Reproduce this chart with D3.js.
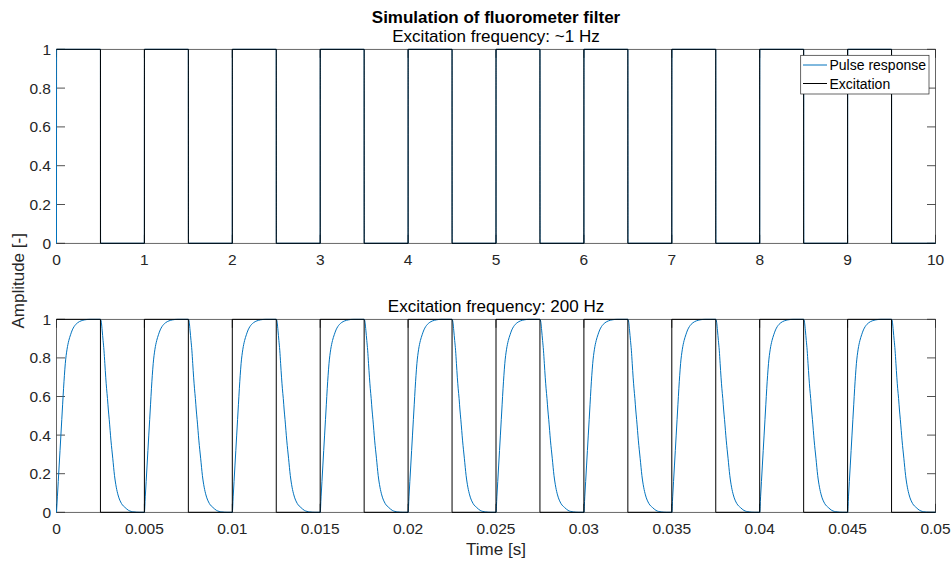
<!DOCTYPE html>
<html>
<head>
<meta charset="utf-8">
<script src="https://cdn.jsdelivr.net/npm/d3@7"></script>
<style>
  html, body { margin: 0; padding: 0; background: #fff; }
  svg { display: block; font-family: "Liberation Sans", Arial, Helvetica, sans-serif; }
</style>
</head>
<body>
<svg id="chart" width="951" height="563"></svg>
<script>
// ---------------- data ----------------
// transition times of the square-wave excitation (level 1 starts at t=0, alternates)
const topEdges = [0, 0.5, 1, 1.5, 2, 2.5, 3, 3.5, 4, 4.5, 5, 5.5, 6, 6.5, 7, 7.5, 8, 8.5, 9, 9.5, 10];
const bottomEdges = [0, 0.0025, 0.005, 0.0075, 0.01, 0.0125, 0.015, 0.0175, 0.02, 0.0225, 0.025,
                     0.0275, 0.03, 0.0325, 0.035, 0.0375, 0.04, 0.0425, 0.045, 0.0475, 0.05];
// filter step response, offsets in ms after each edge
const shapeTms  = [0, 0.05, 0.1, 0.15, 0.2, 0.25, 0.3, 0.35, 0.4, 0.45, 0.5, 0.6, 0.7, 0.8, 0.9, 1.0, 1.2, 1.4, 1.6, 1.9, 2.2];
const riseShape = [0, 0.08, 0.16, 0.24, 0.32, 0.40, 0.48, 0.56, 0.64, 0.71, 0.77, 0.845, 0.89, 0.92, 0.945, 0.962, 0.982, 0.992, 0.997, 1, 1];
const fallShape = [1, 0.985, 0.94, 0.89, 0.84, 0.77, 0.70, 0.64, 0.59, 0.53, 0.48, 0.37, 0.28, 0.19, 0.13, 0.09, 0.045, 0.025, 0.01, 0.002, 0];

const yTicks = [0, 0.2, 0.4, 0.6, 0.8, 1];
const yTickLabels = ["0", "0.2", "0.4", "0.6", "0.8", "1"];
const topXTicks = [0, 1, 2, 3, 4, 5, 6, 7, 8, 9, 10];
const topXTickLabels = ["0", "1", "2", "3", "4", "5", "6", "7", "8", "9", "10"];
const bottomXTicks = [0, 0.005, 0.01, 0.015, 0.02, 0.025, 0.03, 0.035, 0.04, 0.045, 0.05];
const bottomXTickLabels = ["0", "0.005", "0.01", "0.015", "0.02", "0.025", "0.03", "0.035", "0.04", "0.045", "0.05"];

const seriesNames = ["Pulse response", "Excitation"];
const seriesColors = ["#0072BD", "#000000"];

// ---------------- layout ----------------
const svg = d3.select("#chart");
const X0 = 56.5, X1 = 935.5;
const panels = [
  { top: 49.3, bottom: 243.3, edges: topEdges, ticks: topXTicks, labels: topXTickLabels,
    subtitle: "Excitation frequency: ~1 Hz", legend: true },
  { top: 319.3, bottom: 512.3, edges: bottomEdges, ticks: bottomXTicks, labels: bottomXTickLabels,
    subtitle: "Excitation frequency: 200 Hz", legend: false }
];
const axisColor = "#262626";
const tickLen = 8.5;
const tickFont = "15.5px";

function excitation(edges) {
  const pts = [];
  for (let i = 0; i < edges.length - 1; i++) pts.push([edges[i], i % 2 === 0 ? 1 : 0]);
  pts.push([edges[edges.length - 1], (edges.length - 2) % 2 === 0 ? 1 : 0]);
  return pts;
}
function response(edges) {
  const pts = [];
  for (let i = 0; i < edges.length - 1; i++) {
    const shape = i % 2 === 0 ? riseShape : fallShape;
    shapeTms.forEach((t, k) => {
      const tt = edges[i] + t / 1000;
      if (tt < edges[i + 1]) pts.push([tt, shape[k]]);
    });
  }
  const last = pts[pts.length - 1];
  pts.push([edges[edges.length - 1], last[1]]);
  return pts;
}

panels.forEach(p => {
  const xDom = [p.edges[0], p.edges[p.edges.length - 1]];
  const x = d3.scaleLinear().domain(xDom).range([X0, X1]);
  const y = d3.scaleLinear().domain([0, 1]).range([p.bottom, p.top]);
  const g = svg.append("g");

  // axes (below data)
  const ax = g.append("g").attr("stroke", axisColor).attr("fill", "none");
  ax.append("rect").attr("x", X0).attr("y", p.top).attr("width", X1 - X0).attr("height", p.bottom - p.top)
    .attr("stroke-width", 0.7);
  yTicks.forEach(v => {
    ax.append("line").attr("x1", X0).attr("x2", X0 + tickLen).attr("y1", y(v)).attr("y2", y(v)).attr("stroke-width", 0.8);
    ax.append("line").attr("x1", X1).attr("x2", X1 - tickLen).attr("y1", y(v)).attr("y2", y(v)).attr("stroke-width", 0.8);
  });
  p.ticks.forEach(v => {
    ax.append("line").attr("x1", x(v)).attr("x2", x(v)).attr("y1", p.bottom).attr("y2", p.bottom - tickLen).attr("stroke-width", 0.8);
    ax.append("line").attr("x1", x(v)).attr("x2", x(v)).attr("y1", p.top).attr("y2", p.top + tickLen).attr("stroke-width", 0.8);
  });

  // tick labels
  const tl = g.append("g").attr("fill", axisColor).style("font-size", tickFont);
  yTicks.forEach((v, i) => {
    tl.append("text").attr("x", 51).attr("y", y(v)).attr("dy", "0.36em")
      .attr("text-anchor", "end").text(yTickLabels[i]);
  });
  p.ticks.forEach((v, i) => {
    tl.append("text").attr("x", x(v)).attr("y", p.bottom + 21.5)
      .attr("text-anchor", "middle").text(p.labels[i]);
  });

  // subtitle
  g.append("text").attr("x", (X0 + X1) / 2).attr("y", p.top - 7.5).attr("text-anchor", "middle")
    .attr("fill", "#000").style("font-size", "17px").text(p.subtitle);

  // data
  const clipId = "clip" + Math.round(p.top);
  svg.append("clipPath").attr("id", clipId).append("rect")
    .attr("x", X0 - 1).attr("y", p.top - 1).attr("width", X1 - X0 + 2).attr("height", p.bottom - p.top + 2);
  const line = d3.line().x(d => x(d[0])).y(d => y(d[1]));
  const dg = g.append("g").attr("clip-path", `url(#${clipId})`).attr("fill", "none");
  dg.append("path").datum(response(p.edges))
    .attr("d", line.curve(d3.curveMonotoneX)).attr("stroke", seriesColors[0]).attr("stroke-width", 1);
  dg.append("path").datum(excitation(p.edges))
    .attr("d", d3.line().x(d => x(d[0])).y(d => y(d[1])).curve(d3.curveStepAfter))
    .attr("stroke", seriesColors[1]).attr("stroke-width", 1);

  if (p.legend) {
    const lg = g.append("g");
    lg.append("rect").attr("x", 800.7).attr("y", 55.3).attr("width", 128.3).attr("height", 38.7)
      .attr("fill", "#fff").attr("stroke", axisColor).attr("stroke-width", 0.7);
    seriesNames.forEach((name, i) => {
      const ly = 65 + i * 18.5;
      lg.append("line").attr("x1", 803).attr("x2", 827).attr("y1", ly).attr("y2", ly)
        .attr("stroke", seriesColors[i]).attr("stroke-width", 1);
      lg.append("text").attr("x", 829.5).attr("y", ly).attr("dy", "0.36em")
        .attr("fill", "#000").style("font-size", "14px").text(name);
    });
  }
});

// main title
svg.append("text").attr("x", (X0 + X1) / 2).attr("y", 22.5).attr("text-anchor", "middle")
  .attr("fill", "#000").style("font-size", "17px").style("font-weight", "bold")
  .text("Simulation of fluorometer filter");

// axis labels
svg.append("text").attr("x", (X0 + X1) / 2).attr("y", 555).attr("text-anchor", "middle")
  .attr("fill", axisColor).style("font-size", "17px").text("Time [s]");
svg.append("text").attr("transform", `translate(24,${(49.3 + 512.3) / 2}) rotate(-90)`)
  .attr("text-anchor", "middle").attr("fill", axisColor).style("font-size", "17px").text("Amplitude [-]");
</script>
</body>
</html>
